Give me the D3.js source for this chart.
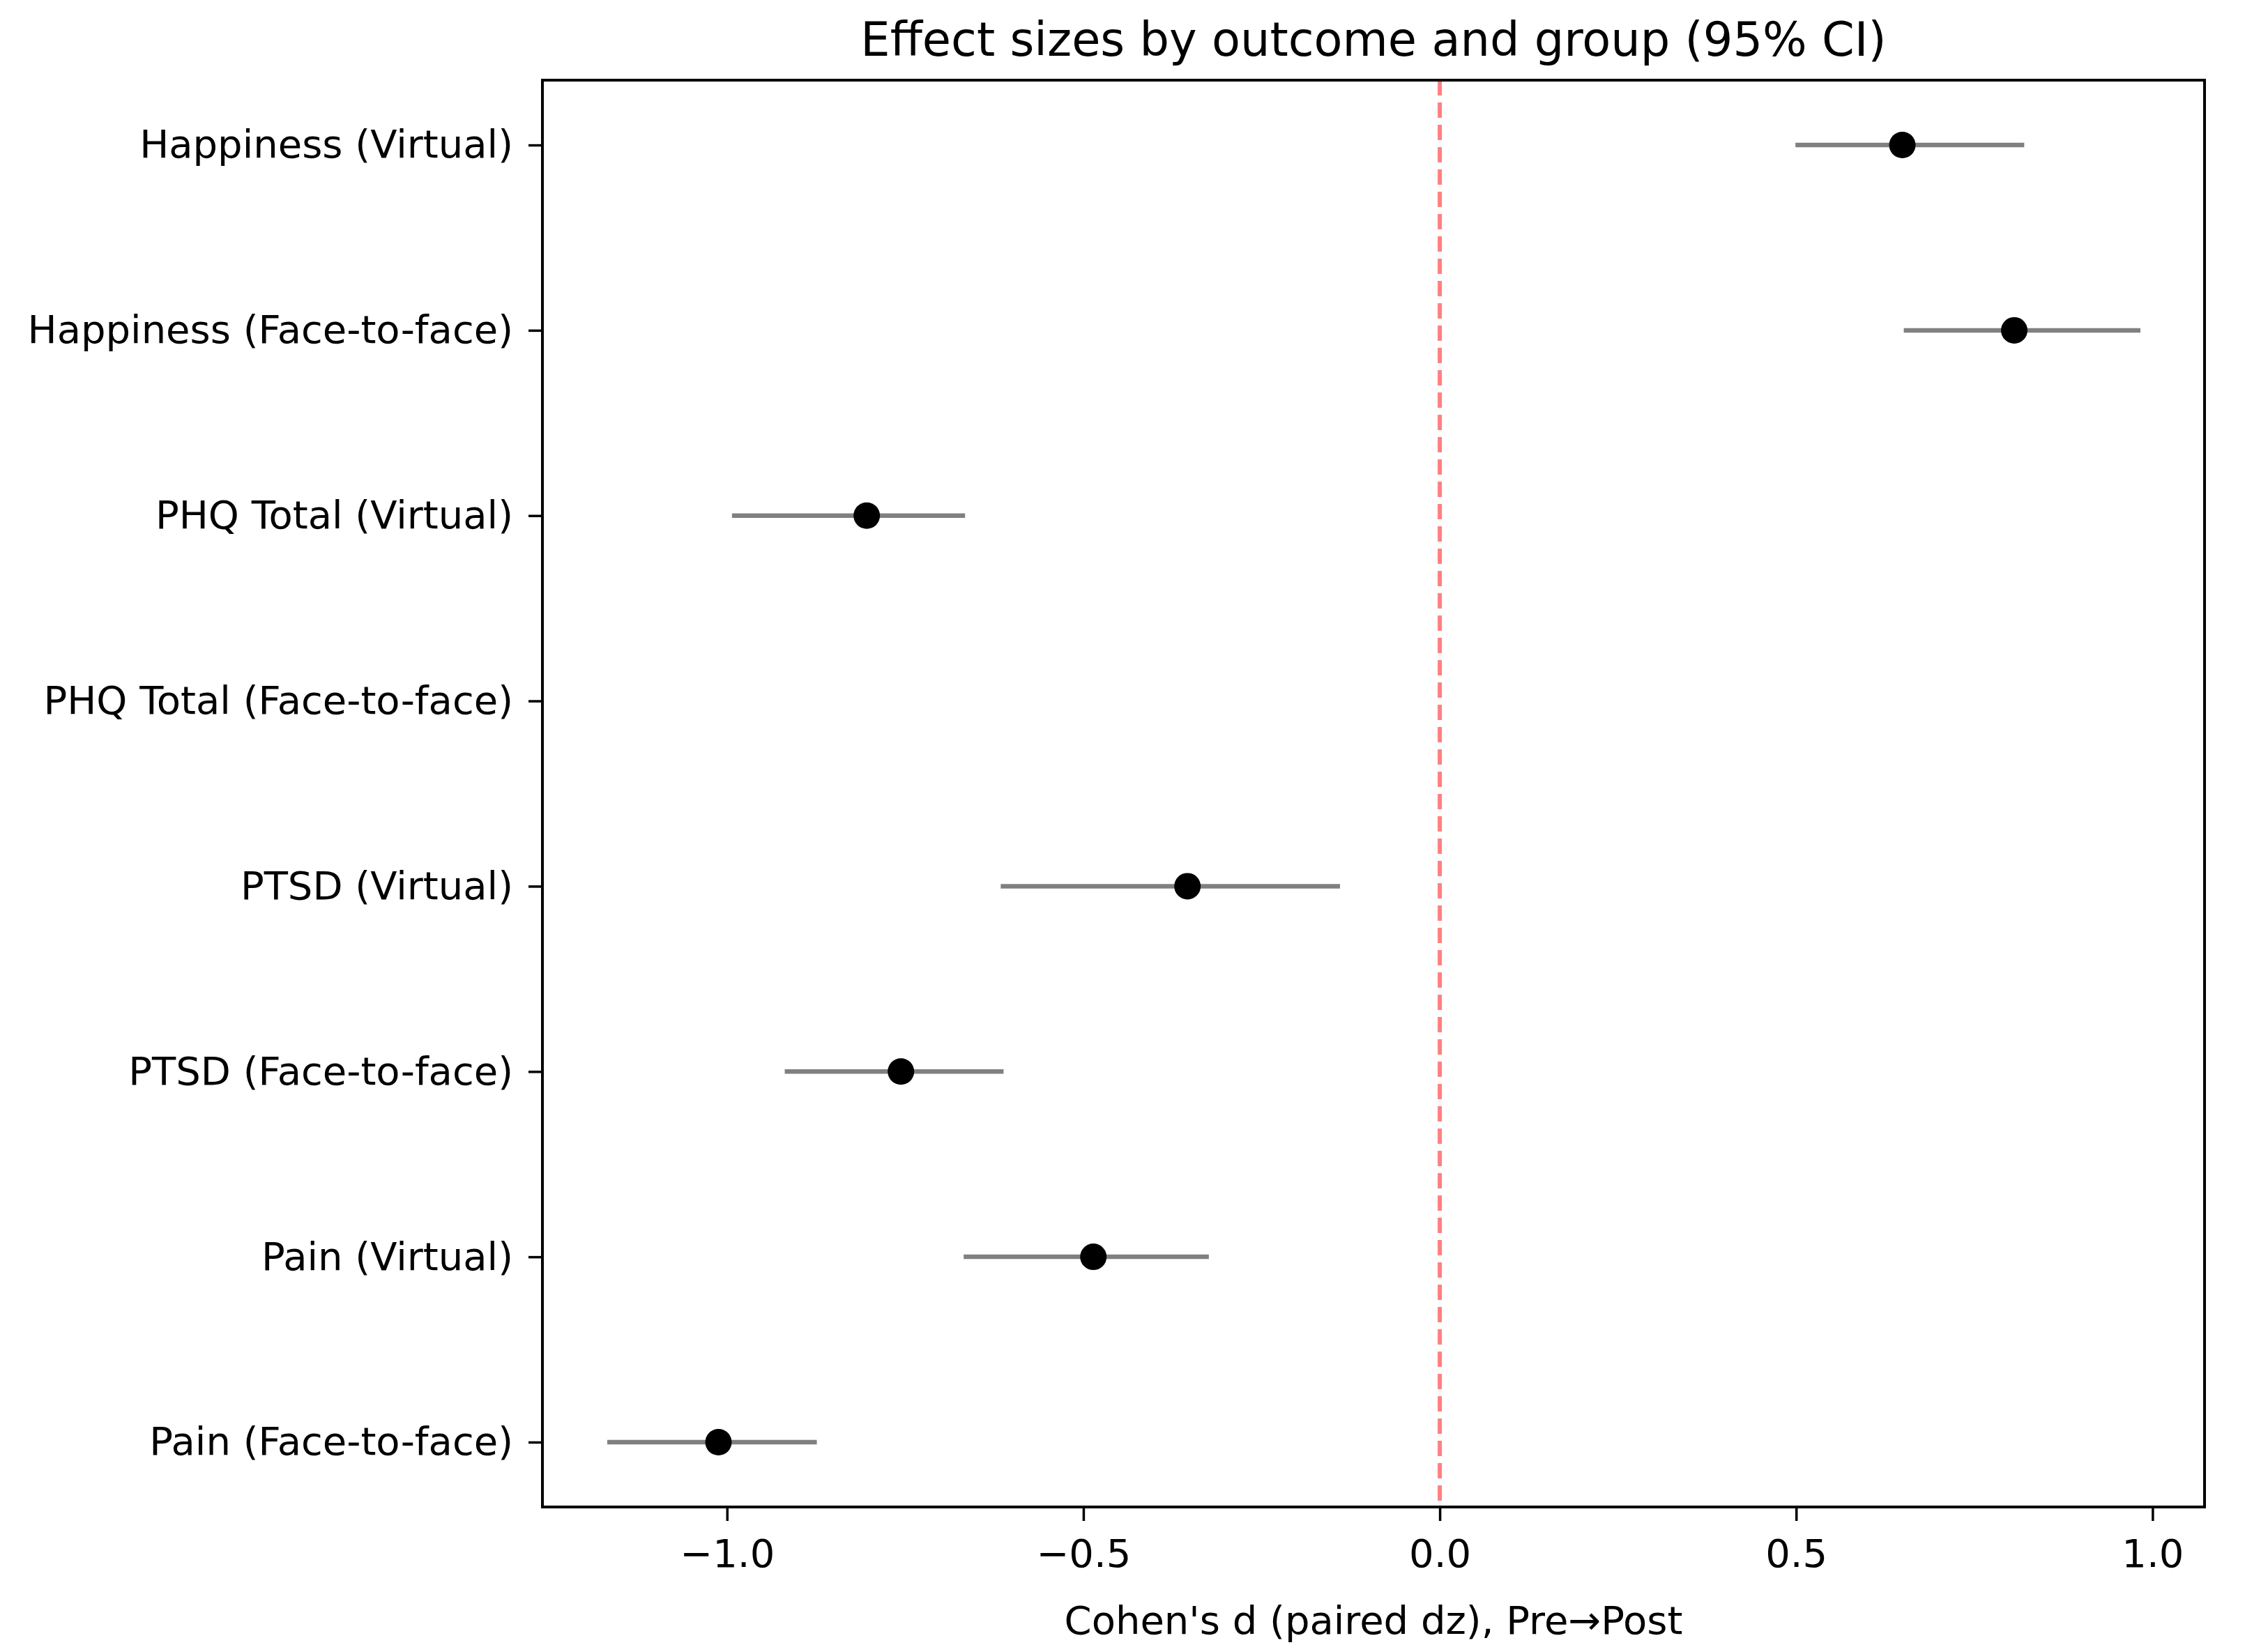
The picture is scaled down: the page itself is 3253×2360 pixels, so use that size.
<!DOCTYPE html>
<html>
<head>
<meta charset="utf-8">
<script src="https://cdn.jsdelivr.net/npm/d3@7"></script>
<style>
    body { margin: 0; background: #fff; overflow: hidden; }
    text { font-family: "DejaVu Sans", sans-serif; }
</style>
</head>
<body>
<div id="viz"></div>
<script>
const labels = ['Happiness (Virtual)', 'Happiness (Face-to-face)', 'PHQ Total (Virtual)', 'PHQ Total (Face-to-face)',
    'PTSD (Virtual)', 'PTSD (Face-to-face)', 'Pain (Virtual)', 'Pain (Face-to-face)'];
const effect = [0.649, 0.806, -0.804, null, -0.354, -0.756, -0.486, -1.012];
const ciLow = [0.499, 0.651, -0.993, null, -0.616, -0.919, -0.668, -1.168];
const ciHigh = [0.820, 0.983, -0.666, null, -0.140, -0.612, -0.324, -0.874];
const xTicks = [-1.0, -0.5, 0.0, 0.5, 1.0];

const width = 3253,
    height = 2360,
    margin = { top: 115, right: 91, bottom: 198, left: 778 };

const svg = d3.select('#viz').append('svg')
    .attr('width', width)
    .attr('height', height)
    .style('display', 'block');

const x = d3.scaleLinear()
    .domain([-1.259, 1.073])
    .range([margin.left, width - margin.right]);

const y = d3.scaleLinear()
    .domain([-0.35, 7.35])
    .range([margin.top, height - margin.bottom]);

const rows = labels.map((label, i) => ({ label, i, d: effect[i], lo: ciLow[i], hi: ciHigh[i] }))
    .filter(r => r.d !== null);

// zero line
svg.append('line')
    .attr('x1', x(0)).attr('x2', x(0))
    .attr('y1', margin.top).attr('y2', height - margin.bottom)
    .attr('stroke', '#ff8080')
    .attr('stroke-width', 6)
    .attr('stroke-dasharray', '22,10');

svg.append('g').selectAll('line')
    .data(rows)
    .join('line')
    .attr('x1', r => x(r.lo))
    .attr('x2', r => x(r.hi))
    .attr('y1', r => y(r.i))
    .attr('y2', r => y(r.i))
    .attr('stroke', '#808080')
    .attr('stroke-width', 6.5);

svg.append('g').selectAll('circle')
    .data(rows)
    .join('circle')
    .attr('cx', r => x(r.d))
    .attr('cy', r => y(r.i))
    .attr('r', 19)
    .style('fill', 'black');

// frame
svg.append('rect')
    .attr('x', margin.left)
    .attr('y', margin.top)
    .attr('width', width - margin.left - margin.right)
    .attr('height', height - margin.top - margin.bottom)
    .attr('fill', 'none')
    .attr('stroke', 'black')
    .attr('stroke-width', 4);

const xAxis = svg.append('g')
    .attr('transform', `translate(0,${height - margin.bottom})`)
    .call(d3.axisBottom(x).tickValues(xTicks).tickFormat(d => d3.format('.1f')(d).replace('-', '\u2212'))
        .tickSize(20).tickPadding(26));

const yAxis = svg.append('g')
    .attr('transform', `translate(${margin.left},0)`)
    .call(d3.axisLeft(y).tickValues(d3.range(labels.length)).tickFormat(i => labels[i])
        .tickSize(20).tickPadding(22));

[xAxis, yAxis].forEach(a => {
    a.select('.domain').remove();
    a.selectAll('.tick line').attr('stroke', 'black').attr('stroke-width', 3.5);
    a.selectAll('.tick text').attr('font-size', 56).attr('fill', 'black')
        .style('font-family', '"DejaVu Sans", sans-serif');
});

svg.append('text')
    .attr('x', (margin.left + width - margin.right) / 2)
    .attr('y', 80)
    .attr('text-anchor', 'middle')
    .attr('font-size', 67)
    .text('Effect sizes by outcome and group (95% CI)');

svg.append('text')
    .attr('x', (margin.left + width - margin.right) / 2)
    .attr('y', 2344)
    .attr('text-anchor', 'middle')
    .attr('font-size', 56)
    .text("Cohen's d (paired dz), Pre\u2192Post");
</script>
</body>
</html>
